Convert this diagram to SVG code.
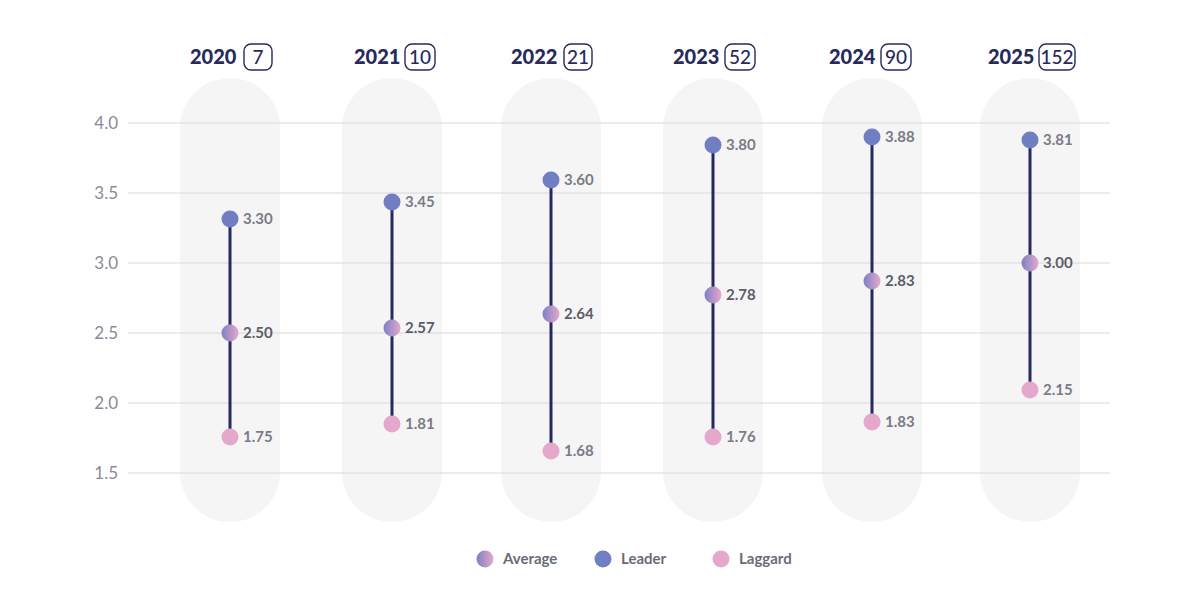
<svg xmlns="http://www.w3.org/2000/svg" width="1200" height="605" viewBox="0 0 1200 605">
<style>
.pill{fill:#f5f5f6}
.grid{stroke:#d9d9dd;stroke-width:1}
.ax{font-family:Lato,"Liberation Sans",sans-serif;font-size:17px;fill:#8a8a96;text-anchor:end}
.yr{font-family:Lato,"Liberation Sans",sans-serif;font-size:20px;font-weight:900;fill:#262a5c}
.badge{fill:none;stroke:#262a5c;stroke-width:1.4}
.bt{font-family:Lato,"Liberation Sans",sans-serif;font-size:19px;font-weight:500;fill:#262a5c;text-anchor:middle}
.v{font-family:Lato,"Liberation Sans",sans-serif;font-size:15px;font-weight:700;fill:#7b7b86}
.va{font-family:Lato,"Liberation Sans",sans-serif;font-size:15px;font-weight:700;fill:#5d5d68}
.stem{stroke:#262a5c;stroke-width:3}
.lead{fill:#6f7fc2}
.lag{fill:#e5a8cb}
.avg{fill:url(#g)}
.lg{font-family:Lato,"Liberation Sans",sans-serif;font-size:15px;font-weight:700;fill:#6b6b78}
</style>
<defs><linearGradient id="g" x1="0" x2="1" y1="0" y2="0"><stop offset="0" stop-color="#7e80c6"/><stop offset="1" stop-color="#e5a8cb"/></linearGradient></defs>
<g id="pills">
<rect class="pill" x="180" y="78" width="100" height="444" rx="50"/>
<rect class="pill" x="342" y="78" width="100" height="444" rx="50"/>
<rect class="pill" x="501" y="78" width="100" height="444" rx="50"/>
<rect class="pill" x="663" y="78" width="100" height="444" rx="50"/>
<rect class="pill" x="822" y="78" width="100" height="444" rx="50"/>
<rect class="pill" x="980" y="78" width="100" height="444" rx="50"/>
</g>
<g id="axis">
<line class="grid" x1="128" x2="1110" y1="123" y2="123"/>
<line class="grid" x1="128" x2="1110" y1="193" y2="193"/>
<line class="grid" x1="128" x2="1110" y1="263" y2="263"/>
<line class="grid" x1="128" x2="1110" y1="333" y2="333"/>
<line class="grid" x1="128" x2="1110" y1="403" y2="403"/>
<line class="grid" x1="128" x2="1110" y1="473" y2="473"/>
<text class="ax" x="118" y="129">4.0</text>
<text class="ax" x="118" y="199">3.5</text>
<text class="ax" x="118" y="269">3.0</text>
<text class="ax" x="118" y="339">2.5</text>
<text class="ax" x="118" y="409">2.0</text>
<text class="ax" x="118" y="479">1.5</text>
</g>
<g id="headers">
<text class="yr" x="190" y="64">2020</text><rect class="badge" x="244" y="44" width="28" height="26" rx="7"/><text class="bt" x="258" y="64">7</text>
<text class="yr" x="354" y="64">2021</text><rect class="badge" x="405" y="44" width="30" height="26" rx="7"/><text class="bt" x="420" y="64">10</text>
<text class="yr" x="511" y="64">2022</text><rect class="badge" x="564" y="44" width="28" height="26" rx="7"/><text class="bt" x="578" y="64">21</text>
<text class="yr" x="673" y="64">2023</text><rect class="badge" x="725" y="44" width="30" height="26" rx="7"/><text class="bt" x="740" y="64">52</text>
<text class="yr" x="829" y="64">2024</text><rect class="badge" x="881" y="44" width="30" height="26" rx="7"/><text class="bt" x="896" y="64">90</text>
<text class="yr" x="988" y="64">2025</text><rect class="badge" x="1039" y="44" width="36" height="26" rx="7"/><text class="bt" x="1057" y="64">152</text>
</g>
<g id="connectors">
<line class="stem" x1="230" x2="230" y1="219" y2="437"/>
<line class="stem" x1="392" x2="392" y1="202" y2="424"/>
<line class="stem" x1="551" x2="551" y1="180" y2="451"/>
<line class="stem" x1="713" x2="713" y1="145" y2="437"/>
<line class="stem" x1="872" x2="872" y1="137" y2="422"/>
<line class="stem" x1="1030" x2="1030" y1="140" y2="390"/>
</g>
<g id="col2020"><circle class="lead" cx="230" cy="219" r="8.5"/><circle class="avg" cx="230" cy="333" r="8.5"/><circle class="lag" cx="230" cy="437" r="8.5"/>
<text class="v" x="243" y="224">3.30</text><text class="va" x="243" y="338">2.50</text><text class="v" x="243" y="442">1.75</text></g>
<g id="col2021"><circle class="lead" cx="392" cy="202" r="8.5"/><circle class="avg" cx="392" cy="328" r="8.5"/><circle class="lag" cx="392" cy="424" r="8.5"/>
<text class="v" x="405" y="207">3.45</text><text class="va" x="405" y="333">2.57</text><text class="v" x="405" y="429">1.81</text></g>
<g id="col2022"><circle class="lead" cx="551" cy="180" r="8.5"/><circle class="avg" cx="551" cy="314" r="8.5"/><circle class="lag" cx="551" cy="451" r="8.5"/>
<text class="v" x="564" y="185">3.60</text><text class="va" x="564" y="319">2.64</text><text class="v" x="564" y="456">1.68</text></g>
<g id="col2023"><circle class="lead" cx="713" cy="145" r="8.5"/><circle class="avg" cx="713" cy="295" r="8.5"/><circle class="lag" cx="713" cy="437" r="8.5"/>
<text class="v" x="726" y="150">3.80</text><text class="va" x="726" y="300">2.78</text><text class="v" x="726" y="442">1.76</text></g>
<g id="col2024"><circle class="lead" cx="872" cy="137" r="8.5"/><circle class="avg" cx="872" cy="281" r="8.5"/><circle class="lag" cx="872" cy="422" r="8.5"/>
<text class="v" x="885" y="142">3.88</text><text class="va" x="885" y="286">2.83</text><text class="v" x="885" y="427">1.83</text></g>
<g id="col2025"><circle class="lead" cx="1030" cy="140" r="8.5"/><circle class="avg" cx="1030" cy="263" r="8.5"/><circle class="lag" cx="1030" cy="390" r="8.5"/>
<text class="v" x="1043" y="145">3.81</text><text class="va" x="1043" y="268">3.00</text><text class="v" x="1043" y="395">2.15</text></g>
<g id="legend">
<circle class="avg" cx="485" cy="559" r="8.5"/><text class="lg" x="503" y="564">Average</text>
<circle class="lead" cx="603" cy="559" r="8.5"/><text class="lg" x="621" y="564">Leader</text>
<circle class="lag" cx="721" cy="559" r="8.5"/><text class="lg" x="739" y="564">Laggard</text>
</g>
</svg>
